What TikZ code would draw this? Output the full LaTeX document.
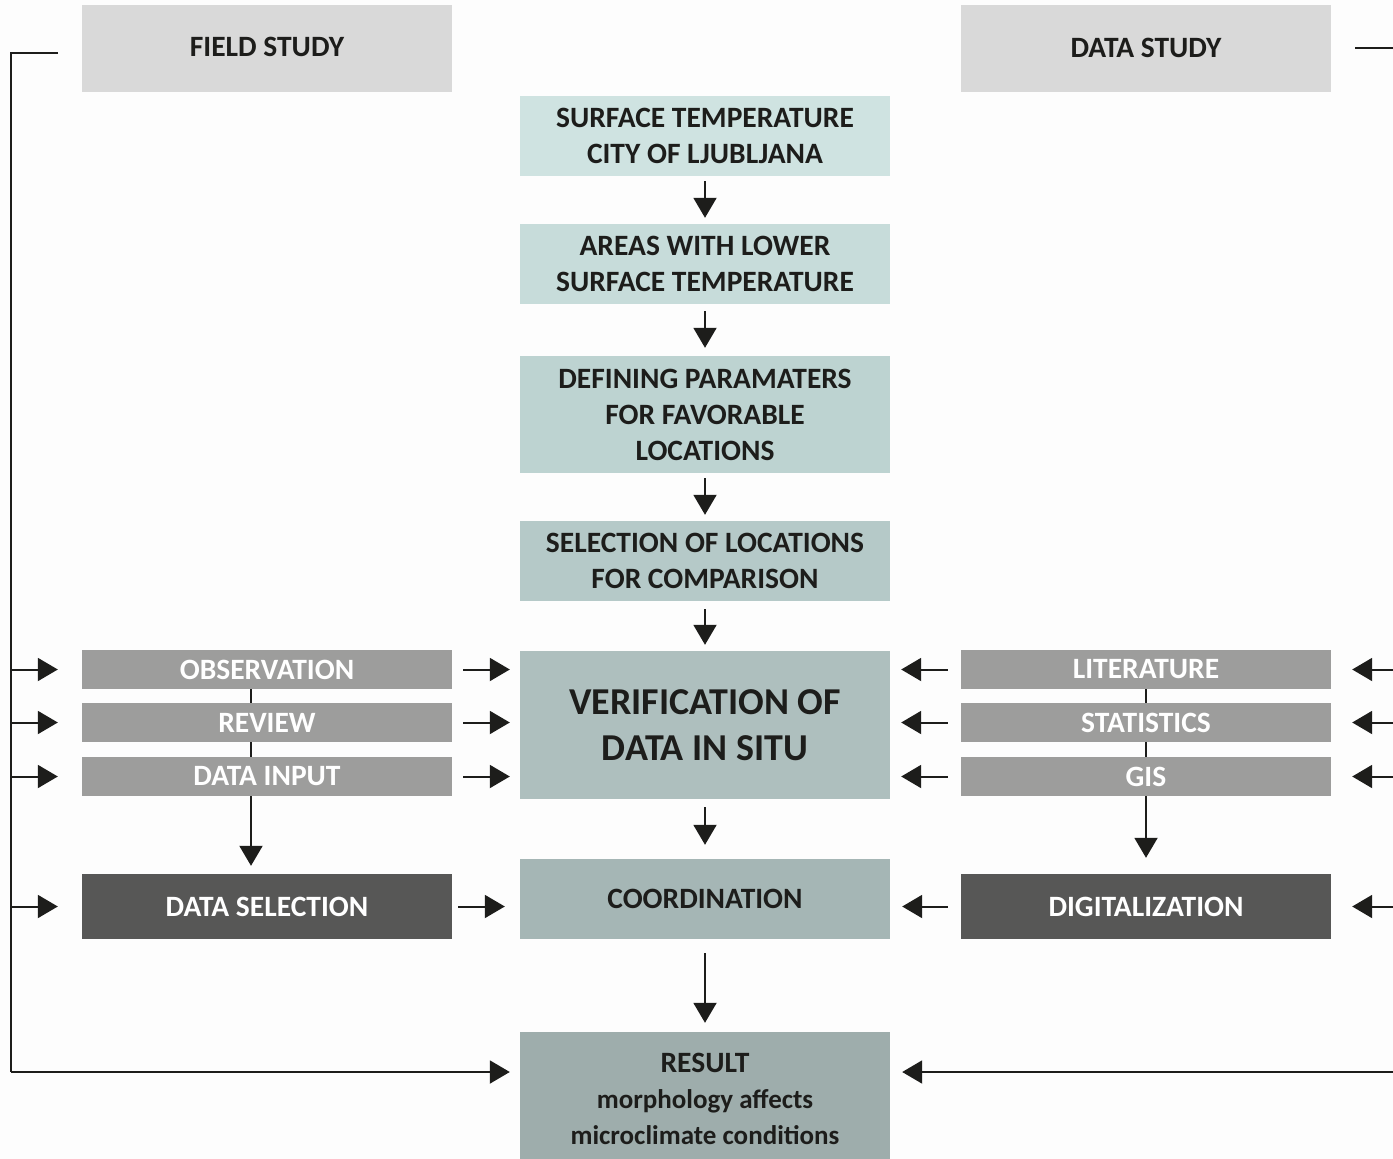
\documentclass[tikz,border=0pt]{standalone}
\usepackage{fontspec}
\setmainfont{Carlito}
\usetikzlibrary{arrows.meta,calc}
\definecolor{bg}{HTML}{FDFDFD}
\definecolor{hdr}{HTML}{D9D9D9}
\definecolor{txt}{HTML}{1D1D1B}
\definecolor{cA}{HTML}{CFE3E1}
\definecolor{cB}{HTML}{C7DCDA}
\definecolor{cC}{HTML}{BDD3D1}
\definecolor{cD}{HTML}{B5C9C8}
\definecolor{cE}{HTML}{AEBFBE}
\definecolor{cF}{HTML}{A5B6B5}
\definecolor{cG}{HTML}{9EADAC}
\definecolor{midgray}{HTML}{9D9D9C}
\definecolor{darkgray}{HTML}{575756}
\definecolor{lnk}{HTML}{1D1D1B}
\begin{document}
\begin{tikzpicture}[x=1pt,y=-1pt,
  basebox/.style={rectangle, inner sep=0pt, minimum width=370pt, align=center,
    font=\fontsize{29.5}{36}\selectfont\bfseries},
  hdrbox/.style={basebox, fill=hdr, text=txt, minimum height=87pt},
  ctrbox/.style={basebox, text=txt, minimum height=80pt},
  smallbox/.style={basebox, fill=midgray, text=white, minimum height=39pt},
  darkbox/.style={basebox, fill=darkgray, text=white, minimum height=65pt},
  arr/.style={draw=lnk, line width=2pt, -{Triangle[length=20pt,width=23pt]}},
  ln/.style={draw=lnk, line width=2pt}
]
\fill[bg] (0,0) rectangle (1393,1159);
\useasboundingbox (0,0) rectangle (1393,1159);

% headers
\node[hdrbox] (field) at (267,48.5) {\raisebox{4pt}{FIELD STUDY}};
\node[hdrbox] (dstudy) at (1146,48.5) {\raisebox{1pt}{DATA STUDY}};

% centre column
\node[ctrbox, fill=cA] (c1) at (705,136) {SURFACE TEMPERATURE\\CITY OF LJUBLJANA};
\node[ctrbox, fill=cB] (c2) at (705,264) {AREAS WITH LOWER\\SURFACE TEMPERATURE};
\node[ctrbox, fill=cC, minimum height=117pt] (c3) at (705,414.5) {DEFINING PARAMATERS\\FOR FAVORABLE\\LOCATIONS};
\node[ctrbox, fill=cD] (c4) at (705,561) {SELECTION OF LOCATIONS\\FOR COMPARISON};
\node[ctrbox, fill=cE, minimum height=148pt, font=\fontsize{38}{46}\selectfont\bfseries] (c5) at (705,725) {VERIFICATION OF\\DATA IN SITU};
\node[ctrbox, fill=cF] (c6) at (705,899) {\raisebox{-5pt}{COORDINATION}};
\node[ctrbox, fill=cG, minimum height=127pt] (c7) at (705,1095.5) {};
\node[basebox, text=txt, minimum width=0pt] (c7text) at ([yshift=-3pt]c7.center)
  {\fontsize{29.5}{33}\selectfont RESULT\\\fontsize{27}{32}\selectfont morphology affects\\\fontsize{27}{32}\selectfont microclimate conditions};

% left column
\node[smallbox] (obs) at (267,669.5) {OBSERVATION};
\node[smallbox] (rev) at (267,722.5) {REVIEW};
\node[smallbox] (din) at (267,776.5) {DATA INPUT};
\node[darkbox] (dsel) at (267,906.5) {DATA SELECTION};

% right column
\node[smallbox] (lit) at (1146,669.5) {LITERATURE};
\node[smallbox] (stat) at (1146,722.5) {STATISTICS};
\node[smallbox] (gis) at (1146,776.5) {GIS};
\node[darkbox] (dig) at (1146,906.5) {DIGITALIZATION};

% rails
\coordinate (ltop) at (58,53);
\coordinate (lrail) at (11,53);
\coordinate (lbot) at (11,1072);
\coordinate (rtop) at (1355,48);
\coordinate (redge) at (1393,48);
\coordinate (rbot) at (1393,1072);

% centre arrows
\draw[arr, shorten <=5pt, shorten >=6pt] (c1) -- (c2);
\draw[arr, shorten <=7pt, shorten >=8pt] (c2) -- (c3);
\draw[arr, shorten <=5pt, shorten >=6pt] (c3) -- (c4);
\draw[arr, shorten <=8pt, shorten >=6pt] (c4) -- (c5);
\draw[arr, shorten <=8pt, shorten >=14pt] (c5) -- (c6);
\draw[arr, shorten <=14pt, shorten >=9pt] (c6) -- (c7);

% left stacks
\draw[ln] ([xshift=-16pt]obs.south) -- ([xshift=-16pt]rev.north);
\draw[ln] ([xshift=-16pt]rev.south) -- ([xshift=-16pt]din.north);
\draw[arr, shorten >=8pt] ([xshift=-16pt]din.south) -- ([xshift=-16pt]dsel.north);
% right stacks
\draw[ln] (lit.south) -- (stat.north);
\draw[ln] (stat.south) -- (gis.north);
\draw[arr, shorten >=16pt] (gis.south) -- (dig.north);

% left boxes -> centre
\draw[arr, shorten <=11pt, shorten >=10pt] (obs.east) -- (obs.east -| c5.west);
\draw[arr, shorten <=11pt, shorten >=10pt] (rev.east) -- (rev.east -| c5.west);
\draw[arr, shorten <=11pt, shorten >=10pt] (din.east) -- (din.east -| c5.west);
\draw[arr, shorten <=6pt, shorten >=15pt] (dsel.east) -- (dsel.east -| c6.west);

% right boxes -> centre
\draw[arr, shorten <=13pt, shorten >=11pt] (lit.west) -- (lit.west -| c5.east);
\draw[arr, shorten <=13pt, shorten >=11pt] (stat.west) -- (stat.west -| c5.east);
\draw[arr, shorten <=13pt, shorten >=11pt] (gis.west) -- (gis.west -| c5.east);
\draw[arr, shorten <=13pt, shorten >=12pt] (dig.west) -- (dig.west -| c6.east);

% left rail
\draw[ln] (ltop) -- (lrail) -- (lbot);
\draw[arr, shorten >=10pt] (lbot) -- (lbot -| c7.west);
\draw[arr, shorten >=24pt] (obs -| lrail) -- (obs.west);
\draw[arr, shorten >=24pt] (rev -| lrail) -- (rev.west);
\draw[arr, shorten >=24pt] (din -| lrail) -- (din.west);
\draw[arr, shorten >=24pt] (dsel -| lrail) -- (dsel.west);

% right rail stubs
\draw[ln] (rtop) -- (redge);
\draw[arr, shorten >=12pt] (rbot) -- (rbot -| c7.east);
\draw[arr, shorten >=21pt] (lit -| redge) -- (lit.east);
\draw[arr, shorten >=21pt] (stat -| redge) -- (stat.east);
\draw[arr, shorten >=21pt] (gis -| redge) -- (gis.east);
\draw[arr, shorten >=21pt] (dig -| redge) -- (dig.east);
\end{tikzpicture}
\end{document}
